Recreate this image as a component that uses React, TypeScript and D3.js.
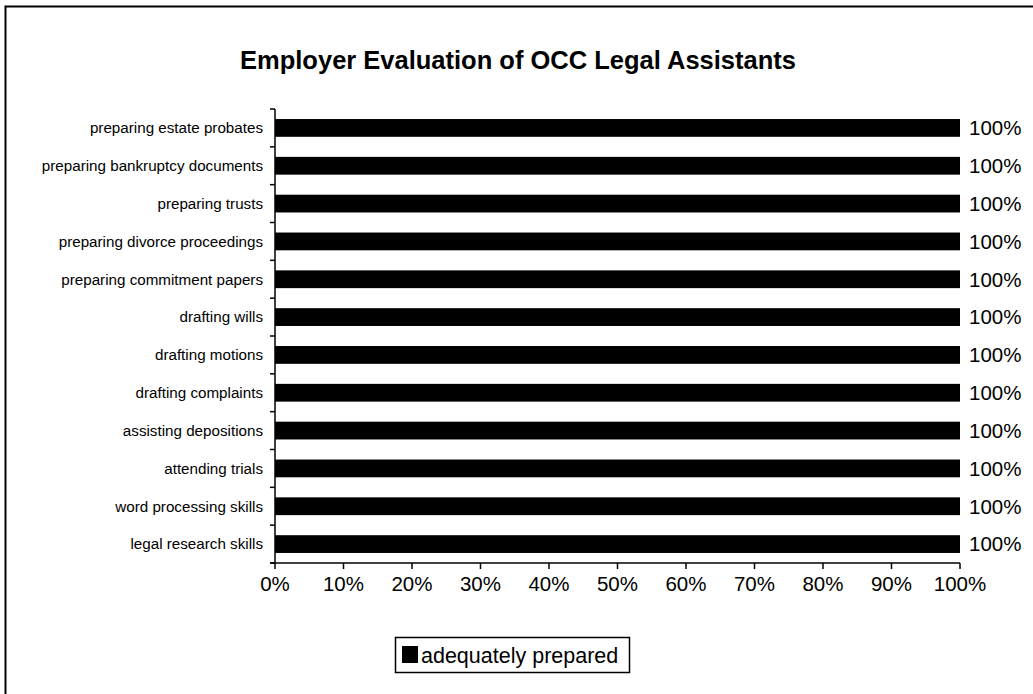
import React from "react";
import * as d3 from "d3";

const categories = [
  "preparing estate probates",
  "preparing bankruptcy documents",
  "preparing trusts",
  "preparing divorce proceedings",
  "preparing commitment papers",
  "drafting wills",
  "drafting motions",
  "drafting complaints",
  "assisting depositions",
  "attending trials",
  "word processing skills",
  "legal research skills",
];
const values = [100, 100, 100, 100, 100, 100, 100, 100, 100, 100, 100, 100];
const xTicks = [0, 10, 20, 30, 40, 50, 60, 70, 80, 90, 100];
const seriesName = "adequately prepared";
const title = "Employer Evaluation of OCC Legal Assistants";

export default function App() {
  const W = 1033, H = 694;
  const left = 275, right = 960, top = 109, bottom = 563;
  const x = d3.scaleLinear().domain([0, 100]).range([left, right]);
  const y = d3.scaleBand<string>().domain(categories).range([top, bottom]).paddingInner(0.53).paddingOuter(0.265);
  const step = y.step();
  const font = "Arial, 'Liberation Sans', sans-serif";
  return (
    <svg width={W} height={H} style={{ position: "absolute", left: 0, top: 0 }} fontFamily={font}>
      <rect x={0} y={0} width={W} height={H} fill="#fff" />
      <rect x={5.5} y={6.5} width={W + 10} height={H + 10} fill="none" stroke="#000" strokeWidth={2} />
      <text x={518} y={69} textAnchor="middle" fontSize={25.5} fontWeight="bold">{title}</text>
      {categories.map((c, i) => (
        <g key={c}>
          <rect x={x(0)} y={y(c)!} width={x(values[i]) - x(0)} height={y.bandwidth()} fill="#000" />
          <text x={left - 12} y={y(c)! + y.bandwidth() / 2} dy="0.35em" textAnchor="end" fontSize={15.2}>{c}</text>
          <text x={x(values[i]) + 9} y={y(c)! + y.bandwidth() / 2} dy="0.36em" fontSize={20.5}>{values[i]}%</text>
        </g>
      ))}
      <line x1={left} x2={left} y1={top} y2={bottom} stroke="#000" strokeWidth={1.5} />
      {d3.range(categories.length + 1).map((i) => (
        <line key={i} x1={left - 5} x2={left} y1={top + i * step} y2={top + i * step} stroke="#000" strokeWidth={1.5} />
      ))}
      <line x1={left - 5} x2={right} y1={bottom} y2={bottom} stroke="#000" strokeWidth={1.5} />
      {xTicks.map((t) => (
        <g key={t}>
          <line x1={x(t)} x2={x(t)} y1={bottom} y2={bottom + 6} stroke="#000" strokeWidth={1.5} />
          <text x={x(t)} y={bottom + 21} dy="0.36em" textAnchor="middle" fontSize={20.5}>{t}%</text>
        </g>
      ))}
      <rect x={395.5} y={637.5} width={234} height={35} fill="#fff" stroke="#000" strokeWidth={1.5} />
      <rect x={402} y={646} width={16} height={17} fill="#000" />
      <text x={421} y={655} dy="0.36em" fontSize={21.5}>{seriesName}</text>
    </svg>
  );
}
